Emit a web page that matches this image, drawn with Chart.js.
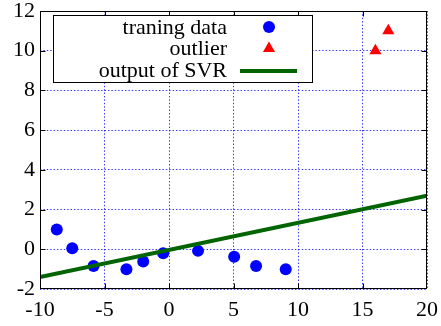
<!DOCTYPE html>
<html>
<head>
<meta charset="utf-8">
<script src="https://cdn.jsdelivr.net/npm/chart.js@4/dist/chart.umd.min.js"></script>
<style>
  html, body { margin: 0; padding: 0; background: #fff; }
  #wrap { width: 441px; height: 326px; }
</style>
</head>
<body>
<div id="wrap"><canvas id="c" width="441" height="326"></canvas></div>
<script>
// Training samples
const trainX = [-8.7, -7.5, -5.85, -3.3, -2.0, -0.45, 2.25, 5.05, 6.75, 9.05];
const trainY = [1.0, 0.05, -0.84, -1.0, -0.62, -0.2, -0.08, -0.37, -0.84, -1.0];
// Outlying samples
const outlierX = [16, 17];
const outlierY = [10, 11];
// Regression line endpoints
const svrX = [-10, 20];
const svrY = [-1.4, 2.7];
// Axis ticks
const xTicks = [-10, -5, 0, 5, 10, 15, 20];
const yTicks = [-2, 0, 2, 4, 6, 8, 10, 12];
// Legend entries
const legendLabels = ['traning data', 'outlier', 'output of SVR'];

const FONT = '"Liberation Serif", "Times New Roman", serif';
const BLUE = '#0000ff', RED = '#ff0000', GREEN = '#006400';

const toPts = (xs, ys) => xs.map((x, i) => ({ x, y: ys[i] }));

// Frame, inward tick marks and boxed key, drawn in the gnuplot manner
const framePlugin = {
  id: 'frame',
  afterDatasetsDraw(chart) {
    const { ctx, chartArea: a, scales } = chart;
    const L = Math.round(a.left) + 0.5, R = Math.round(a.right) - 0.5;
    const T = Math.round(a.top) + 0.5, B = Math.round(a.bottom) - 0.5;
    ctx.save();
    ctx.strokeStyle = '#000';
    ctx.lineWidth = 1;
    // inward ticks on all four sides
    const tl = 5;
    ctx.beginPath();
    xTicks.slice(1, -1).forEach(v => {
      const px = Math.round(scales.x.getPixelForValue(v)) + 0.5;
      ctx.moveTo(px, B); ctx.lineTo(px, B - tl);
      ctx.moveTo(px, T); ctx.lineTo(px, T + tl);
    });
    yTicks.slice(1, -1).forEach(v => {
      const py = Math.round(scales.y.getPixelForValue(v)) + 0.5;
      ctx.moveTo(L, py); ctx.lineTo(L + tl, py);
      ctx.moveTo(R, py); ctx.lineTo(R - tl, py);
    });
    ctx.stroke();
    ctx.strokeRect(L, T, R - L, B - T);

    // key box
    const bx = 53.5, by = 15.5, bw = 259, bh = 67;
    ctx.fillStyle = '#fff';
    ctx.fillRect(bx, by, bw, bh);
    ctx.strokeRect(bx, by, bw, bh);
    const rows = [27, 48.5, 70];
    ctx.fillStyle = '#000';
    ctx.font = '22px ' + FONT;
    ctx.textAlign = 'right';
    ctx.textBaseline = 'middle';
    legendLabels.forEach((t, i) => ctx.fillText(t, 227, rows[i] + 1));
    // sample glyphs
    const mx = 269;
    ctx.fillStyle = BLUE;
    ctx.beginPath();
    ctx.arc(mx, rows[0], 6, 0, Math.PI * 2);
    ctx.fill();
    const r = 7;
    ctx.fillStyle = RED;
    ctx.beginPath();
    ctx.moveTo(mx, rows[1] - r);
    ctx.lineTo(mx + r * Math.sin(2 * Math.PI / 3), rows[1] + r / 2);
    ctx.lineTo(mx - r * Math.sin(2 * Math.PI / 3), rows[1] + r / 2);
    ctx.closePath();
    ctx.fill();
    ctx.strokeStyle = GREEN;
    ctx.lineWidth = 4;
    ctx.beginPath();
    ctx.moveTo(240, rows[2] + 1);
    ctx.lineTo(297, rows[2] + 1);
    ctx.stroke();
    ctx.restore();
  }
};

new Chart(document.getElementById('c'), {
  type: 'scatter',
  data: {
    datasets: [
      {
        label: legendLabels[2],
        data: toPts(svrX, svrY),
        showLine: true,
        borderColor: GREEN,
        borderWidth: 4,
        pointRadius: 0,
        order: 0
      },
      {
        label: legendLabels[0],
        data: toPts(trainX, trainY),
        pointStyle: 'circle',
        pointRadius: 6,
        backgroundColor: BLUE,
        borderWidth: 0,
        order: 2
      },
      {
        label: legendLabels[1],
        data: toPts(outlierX, outlierY),
        pointStyle: 'triangle',
        pointRadius: 7,
        backgroundColor: RED,
        borderWidth: 0,
        order: 1
      }
    ]
  },
  options: {
    responsive: false,
    animation: false,
    layout: { padding: { top: 11, right: 14, left: 0, bottom: 0 } },
    plugins: { legend: { display: false }, tooltip: { enabled: false } },
    scales: {
      x: {
        type: 'linear',
        min: -10, max: 20,
        afterBuildTicks: s => { s.ticks = xTicks.map(v => ({ value: v })); },
        afterFit: s => { s.height = 37; s.paddingLeft = 0; s.paddingRight = 0; },
        grid: { color: 'rgba(0,0,255,0.8)', lineWidth: 1, drawTicks: false },
        border: { display: false, dash: [1.4, 2] },
        ticks: { color: '#000', font: { family: FONT, size: 22 }, padding: 8, maxRotation: 0 }
      },
      y: {
        type: 'linear',
        min: -2, max: 12,
        afterBuildTicks: s => { s.ticks = yTicks.map(v => ({ value: v })); },
        afterFit: s => { s.width = 40; s.paddingTop = 0; s.paddingBottom = 0; },
        grid: { color: 'rgba(0,0,255,0.8)', lineWidth: 1, drawTicks: false },
        border: { display: false, dash: [1.4, 2] },
        ticks: { color: '#000', font: { family: FONT, size: 22 }, padding: 5 }
      }
    }
  },
  plugins: [framePlugin]
});
</script>
</body>
</html>
